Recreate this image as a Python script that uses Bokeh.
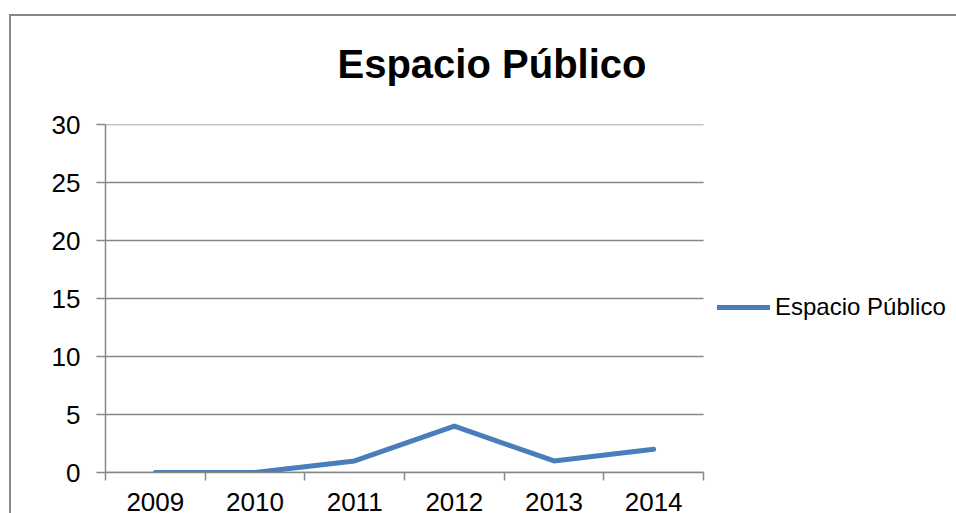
from bokeh.plotting import figure
from bokeh.models import (Range1d, FixedTicker, Legend, LegendItem, ColumnDataSource,
                          InlineStyleSheet)
from bokeh.embed import file_html
from bokeh.resources import INLINE

# ---- data ----
title_text = "Espacio Público"
series_name = "Espacio Público"
years = ["2009", "2010", "2011", "2012", "2013", "2014"]
values = [0, 0, 1, 4, 1, 2]
y_ticks = [0, 5, 10, 15, 20, 25, 30]

FONT = "Liberation Sans"
GRAY = "#878787"
BLUE = "#4a7ebb"

# ---- layout (pixels) ----
FIG_W, FIG_H = 956, 513
PLOT_LEFT, PLOT_RIGHT, PLOT_TOP, PLOT_BOTTOM = 105, 703, 124, 472

n = len(years)
x_pos = [i + 0.5 for i in range(n)]
bounds = list(range(n + 1))
src = ColumnDataSource(dict(x=x_pos, y=values))
grid_src = ColumnDataSource(dict(y=y_ticks, x0=[0] * len(y_ticks), x1=[n] * len(y_ticks)))

# the frame runs to the right edge so the legend (outside the plot area) is not clipped
x_end = n * (FIG_W - PLOT_LEFT) / (PLOT_RIGHT - PLOT_LEFT)

p = figure(width=FIG_W, height=FIG_H, output_backend="svg", toolbar_location=None,
           x_range=Range1d(0, x_end), y_range=Range1d(min(y_ticks), max(y_ticks)),
           min_border_left=PLOT_LEFT, min_border_right=0, min_border_top=PLOT_TOP,
           min_border_bottom=FIG_H - PLOT_BOTTOM, title=title_text)

p.outline_line_color = None
p.background_fill_color = "white"
p.border_fill_alpha = 0
# outer chart border: left and top edges (the others run off the picture)
p.stylesheets = [InlineStyleSheet(css=f"""
:host {{ position: relative; background: white; }}
:host::before {{
  content: ""; position: absolute; left: 9px; top: 14px; width: 2px; bottom: 0;
  background: {GRAY}; pointer-events: none; z-index: 1;
}}
:host::after {{
  content: ""; position: absolute; left: 9px; top: 14px; right: 0; height: 2px;
  background: {GRAY}; pointer-events: none; z-index: 1;
}}
""")]

# title
p.title.align = "left"
p.title.offset = 232
p.title.text_font = FONT
p.title.text_font_size = "40px"
p.title.text_font_style = "bold"
p.title.text_color = "black"
p.title.standoff = 77

# grid lines only across the plot area
p.xgrid.grid_line_color = None
p.ygrid.grid_line_color = None
p.segment(x0="x0", x1="x1", y0="y", y1="y", source=grid_src,
          line_color=GRAY, line_width=1.5)

# y axis
p.yaxis.ticker = FixedTicker(ticks=y_ticks, minor_ticks=[])
p.yaxis.axis_line_color = GRAY
p.yaxis.axis_line_width = 1.5
p.yaxis.major_tick_line_color = GRAY
p.yaxis.major_tick_line_width = 1.5
p.yaxis.major_tick_out = 9
p.yaxis.major_tick_in = 0
p.yaxis.minor_tick_line_color = None
p.yaxis.major_label_standoff = 16
p.yaxis.major_label_text_font = FONT
p.yaxis.major_label_text_font_size = "26px"
p.yaxis.major_label_text_color = "black"

# x axis: labels at category centres, tick marks at category boundaries
p.xaxis.bounds = (0, n)
p.xaxis.ticker = FixedTicker(ticks=x_pos, minor_ticks=bounds)
p.xaxis.major_label_overrides = {x: y for x, y in zip(x_pos, years)}
p.xaxis.axis_line_color = GRAY
p.xaxis.axis_line_width = 1.5
p.xaxis.major_tick_line_color = None
p.xaxis.major_tick_out = 0
p.xaxis.major_tick_in = 0
p.xaxis.minor_tick_line_color = GRAY
p.xaxis.minor_tick_line_width = 1.5
p.xaxis.minor_tick_out = 8
p.xaxis.minor_tick_in = 0
p.xaxis.major_label_standoff = 12
p.xaxis.major_label_text_font = FONT
p.xaxis.major_label_text_font_size = "26px"
p.xaxis.major_label_text_color = "black"

# series
r = p.line("x", "y", source=src, line_color=BLUE, line_width=5,
           line_cap="round", line_join="round")

legend = Legend(items=[LegendItem(label=series_name, renderers=[r])],
                location=(612, 150), padding=0, margin=0, spacing=0,
                glyph_width=53, glyph_height=30, label_height=30,
                label_standoff=5, border_line_color=None,
                background_fill_alpha=0,
                label_text_font=FONT, label_text_font_size="24px",
                label_text_color="black")
p.add_layout(legend)

open("out.html", "w").write(file_html(p, INLINE))
